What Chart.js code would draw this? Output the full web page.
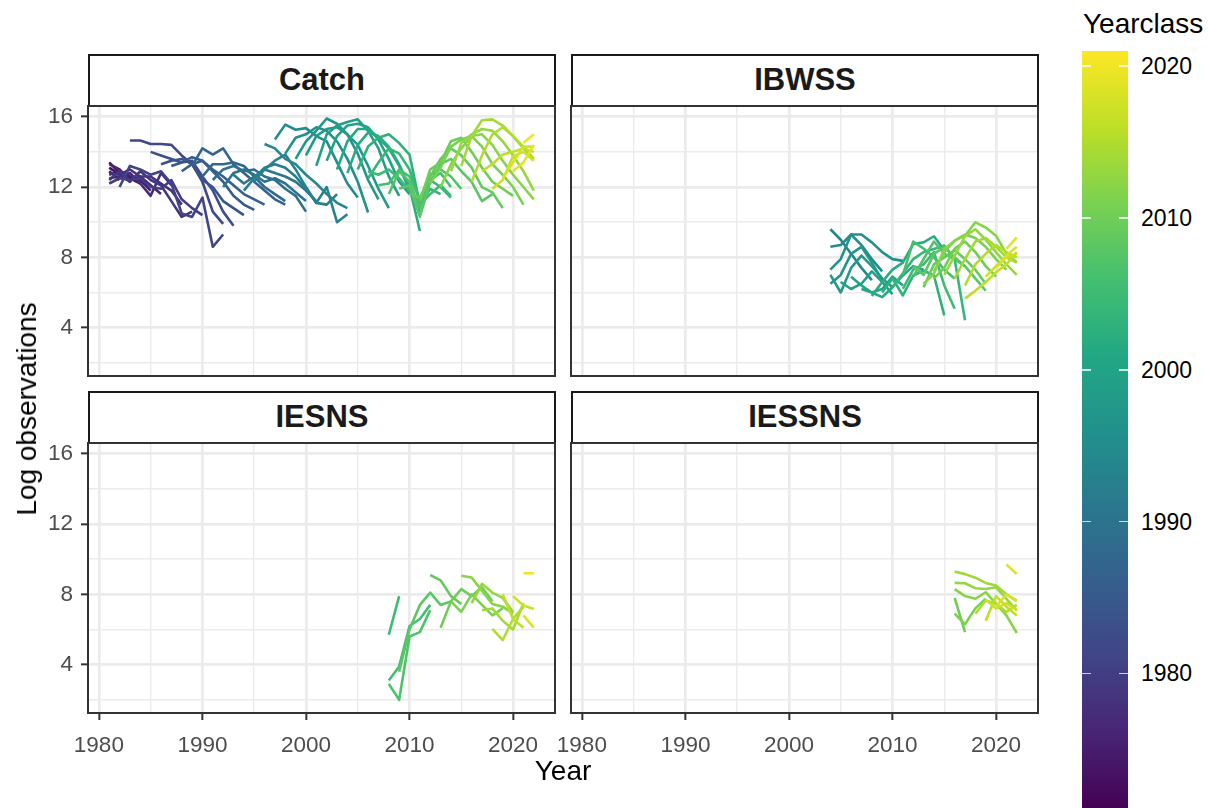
<!DOCTYPE html>
<html>
<head>
<meta charset="utf-8">
<title>Log observations by yearclass</title>
<script src="https://cdn.jsdelivr.net/npm/chart.js"></script>
<style>
  body { margin: 0; background: #fff; font-family: "Liberation Sans", Arial, sans-serif; }
  #page { position: relative; width: 1209px; height: 808px; overflow: hidden; background: #fff; }
  #page canvas { position: absolute; }
  .strip { position: absolute; box-sizing: border-box; height: 53px; border: 2px solid #1a1a1a; background: #fff;
           font-weight: bold; font-size: 31px; line-height: 48px; color: #1a1a1a; text-align: center; }
  .title { position: absolute; font-size: 28px; color: #000; white-space: nowrap; line-height: 1; }
  .cb-label { position: absolute; font-size: 23px; line-height: 23px; color: #000; transform: translateY(-50%); }
  .cb-tick { position: absolute; height: 1.5px; width: 9px; background: rgba(255,255,255,0.75); }
</style>
</head>
<body>
<div id="page">
  <div class="strip" style="left:88px; top:54px; width:468px;">Catch</div>
  <div class="strip" style="left:571px; top:54px; width:468px;">IBWSS</div>
  <div class="strip" style="left:88px; top:391px; width:468px;">IESNS</div>
  <div class="strip" style="left:571px; top:391px; width:468px;">IESSNS</div>

  <canvas id="catchChart" width="558" height="276" style="left:0px; top:103px;"></canvas>
  <canvas id="ibwssChart" width="473" height="276" style="left:568px; top:103px;"></canvas>
  <canvas id="iesnsChart" width="558" height="333" style="left:0px; top:440px;"></canvas>
  <canvas id="iessnsChart" width="501" height="333" style="left:540px; top:440px;"></canvas>

  <div class="title" style="left:27px; top:409px; transform: translate(-50%, -50%) rotate(-90deg);">Log observations</div>
  <div class="title" style="left:563px; top:771px; transform: translate(-50%, -50%);">Year</div>
  <div class="title" style="left:1083px; top:10px;">Yearclass</div>
  <div id="colorbar" style="position:absolute; left:1082px; top:51px; width:46px; height:759px;"></div>
</div>

<script>
// ---- data: one line per yearclass, values start at the given first year ----
const catchYearclass = [1971, 1972, 1973, 1974, 1975, 1976, 1977, 1978, 1979, 1980,
    1981, 1982, 1983, 1984, 1985, 1986, 1987, 1988, 1989, 1990,
    1991, 1992, 1993, 1994, 1995, 1996, 1997, 1998, 1999, 2000,
    2001, 2002, 2003, 2004, 2005, 2006, 2007, 2008, 2009, 2010,
    2011, 2012, 2013, 2014, 2015, 2016, 2017, 2018, 2019, 2020, 2021];
const catchFirstYear = [1981, 1981, 1981, 1981, 1981, 1981, 1981, 1981, 1981, 1981,
    1982, 1983, 1985, 1986, 1987, 1988, 1989, 1990, 1991, 1992,
    1993, 1994, 1995, 1996, 1997, 1998, 1999, 2000, 2001, 2002,
    2003, 2004, 2005, 2006, 2006, 2007, 2008, 2009, 2010, 2011,
    2012, 2013, 2014, 2015, 2016, 2017, 2018, 2019, 2020, 2021, 2022];
const catchLog = [
    [12.6],
    [12.9, 12.4],
    [13.1, 12.7, 12.3],
    [13.4, 12.8, 12.5, 12.2],
    [12.7, 12.9, 12.6, 12.4, 11.8],
    [13.3, 13.0, 12.4, 12.6, 12.1, 11.6],
    [12.5, 12.6, 12.8, 12.2, 11.5, 12.8, 12.1],
    [12.8, 12.7, 13.0, 12.6, 12.6, 12.2, 11.8, 11.0],
    [12.4, 12.9, 12.3, 12.9, 12.4, 12.1, 11.2, 10.3, 10.6],
    [12.2, 12.5, 12.4, 12.5, 12.0, 11.9, 12.4, 11.3, 10.8, 10.4],
    [12.0, 13.2, 13.0, 12.7, 12.9, 12.2, 10.5, 10.3, 11.4, 8.6, 9.3],
    [14.65, 14.65, 14.45, 14.45, 14.4, 13.8, 13.3, 12.3, 10.6, 9.9],
    [14.0, 13.8, 13.6, 13.4, 13.5, 12.6, 11.8, 10.6, 9.8],
    [13.3, 13.5, 13.6, 13.3, 12.4, 12.0, 11.2, 10.8, 10.4],
    [13.2, 13.4, 13.7, 13.5, 12.9, 12.3, 11.5, 11.0, 10.7],
    [12.9, 13.3, 13.5, 13.0, 12.6, 12.1, 11.6, 11.3, 11.0],
    [13.2, 14.2, 13.85, 14.2, 13.3, 12.8, 12.3, 11.8, 11.3, 11.0],
    [12.6, 13.3, 13.3, 13.4, 13.2, 12.6, 12.0, 11.6, 11.2],
    [12.4, 13.0, 13.2, 12.9, 13.0, 12.6, 12.4, 11.9, 11.5, 10.6],
    [12.0, 12.8, 13.0, 12.7, 12.3, 12.5, 12.2, 11.7, 11.2],
    [12.7, 12.2, 12.6, 13.0, 12.8, 12.6, 12.3, 11.8, 11.2],
    [11.8, 12.5, 13.1, 13.3, 13.1, 12.6, 11.9, 11.1, 11.0, 11.6],
    [12.3, 13.0, 13.5, 13.85, 13.0, 12.0, 11.1, 12.0, 10.0, 10.45],
    [14.45, 14.2, 13.6, 13.3, 12.7, 12.2, 11.6, 11.1, 10.8],
    [14.7, 15.55, 15.26, 15.35, 14.9, 14.6, 13.4, 12.2, 11.4],
    [13.9, 14.8, 15.0, 15.4, 15.2, 14.6, 13.6, 12.3, 10.55],
    [13.6, 14.6, 15.2, 15.9, 15.6, 15.0, 13.9, 12.4, 11.3],
    [13.8, 14.9, 15.3, 15.4, 15.0, 14.4, 13.2, 11.9, 10.8],
    [13.2, 15.0, 15.5, 15.7, 15.85, 15.2, 14.2, 12.6, 11.5],
    [13.5, 14.9, 15.5, 15.6, 15.4, 14.7, 13.6, 12.3, 11.6],
    [13.0, 14.6, 15.3, 15.3, 14.8, 14.2, 13.2, 11.8, 10.6],
    [12.8, 14.4, 15.1, 14.9, 14.3, 13.3, 12.0, 9.5],
    [13.0, 14.3, 14.8, 15.0, 14.5, 13.85, 11.0, 11.9, 11.6],
    [12.5, 13.4, 14.2, 13.9, 13.0, 11.2, 12.4, 12.0, 11.4],
    [12.9, 12.7, 13.0, 12.5, 11.8, 11.0, 11.6, 12.1, 11.5],
    [12.1, 12.2, 13.0, 12.6, 11.3, 12.4, 12.8, 12.0],
    [11.6, 12.9, 12.3, 10.8, 12.7, 13.0, 12.6, 11.9],
    [11.9, 12.1, 10.3, 12.3, 13.3, 13.6, 12.9, 12.3, 11.2, 11.6],
    [11.6, 11.4, 12.6, 13.6, 14.2, 13.8, 13.1, 12.0, 11.7, 10.8],
    [11.2, 13.0, 13.4, 14.6, 14.8, 14.0, 13.1, 12.3, 11.9, 11.5],
    [12.2, 13.1, 14.3, 14.7, 14.9, 14.3, 13.3, 12.7, 12.0, 11.0],
    [12.0, 13.3, 14.2, 14.9, 15.0, 14.4, 13.5, 12.7, 12.0, 11.3],
    [12.9, 14.5, 15.0, 15.3, 15.2, 14.6, 13.8, 12.9, 11.8],
    [13.2, 14.9, 15.8, 15.85, 15.5, 14.9, 14.2, 13.6],
    [12.3, 13.8, 15.0, 15.4, 14.9, 14.3, 13.6],
    [12.9, 13.3, 13.85, 14.0, 14.2, 14.0],
    [11.9, 12.4, 13.76, 14.0, 13.5],
    [12.5, 13.4, 14.3, 14.3],
    [12.9, 13.4, 14.4],
    [14.5, 15.0],
    [12.7]
];

const ibwssYearclass = [1994, 1995, 1996, 1997, 1998, 1999, 2000, 2001, 2002, 2003,
    2004, 2005, 2006, 2007, 2008, 2009, 2010, 2011, 2012, 2013,
    2014, 2015, 2016, 2017, 2018, 2019, 2020];
const ibwssFirstYear = [2004, 2004, 2004, 2004, 2004, 2005, 2006, 2007, 2008, 2009,
    2010, 2011, 2011, 2012, 2012, 2013, 2014, 2014, 2013, 2015,
    2016, 2017, 2017, 2019, 2020, 2021, 2022];
const ibwssLog = [
    [9.6, 9.0, 8.2, 7.4, 6.7],
    [8.6, 8.7, 9.3, 8.7, 7.9, 7.2],
    [7.3, 7.9, 9.3, 9.3, 8.85, 8.3, 7.9, 7.8],
    [6.5, 7.0, 8.2, 8.6, 7.7, 6.7],
    [7.0, 6.0, 7.4, 8.1, 7.5, 6.8, 6.3],
    [6.6, 6.2, 6.5, 7.2, 6.6, 5.9],
    [6.9, 6.4, 6.0, 6.2, 6.9, 6.4],
    [6.2, 6.0, 5.74, 6.3, 6.97, 7.5, 7.3],
    [5.8, 6.6, 7.3, 7.7, 8.76, 8.85, 9.2, 8.4],
    [6.0, 6.8, 5.83, 6.97, 7.25, 6.97, 4.7],
    [6.3, 7.1, 7.9, 8.3, 8.48, 8.67, 7.9, 4.42],
    [6.2, 7.3, 7.6, 8.3, 6.4, 5.08],
    [7.0, 8.9, 8.5, 8.0, 7.3, 6.8],
    [6.9, 7.9, 8.9, 8.2, 7.9, 7.5],
    [7.5, 7.0, 8.2, 8.6, 8.0, 7.5, 6.8, 6.1],
    [6.3, 7.6, 8.0, 8.4, 7.9, 7.3, 6.5],
    [6.8, 7.4, 8.5, 8.9, 8.3, 7.5, 6.9],
    [7.2, 8.3, 8.95, 9.3, 9.1, 8.6, 7.9, 7.3],
    [6.5, 7.06, 8.48, 8.95, 9.23, 9.99, 9.7, 9.23, 8.2, 7.72],
    [7.0, 8.1, 9.2, 9.6, 9.0, 8.3, 7.6, 7.0],
    [6.8, 7.9, 8.9, 9.1, 8.6, 8.0, 7.7],
    [6.4, 7.6, 8.2, 8.7, 8.3, 8.0],
    [5.65, 6.1, 6.6, 7.15, 7.6, 8.3],
    [6.9, 7.5, 8.0, 8.2],
    [7.4, 8.1, 8.6],
    [8.48, 9.14],
    [8.0]
];

const iesnsYearclass = [2005, 2006, 2007, 2008, 2009, 2010, 2011, 2012, 2013, 2014,
    2015, 2016, 2017, 2018, 2020];
const iesnsFirstYear = [2008, 2008, 2008, 2009, 2012, 2013, 2014, 2015, 2016, 2017,
    2018, 2019, 2020, 2021, 2021];
const iesnsLog = [
    [5.7, 7.9],
    [3.1, 3.9, 6.2, 6.6, 7.4],
    [2.9, 2.0, 5.6, 5.85, 7.1],
    [3.6, 6.0, 7.4, 8.1, 7.4, 7.6],
    [9.1, 8.8, 7.9, 7.45],
    [6.1, 7.6, 8.3, 7.9, 8.4, 7.6],
    [7.6, 7.0, 8.0, 7.4, 6.8, 7.2],
    [9.06, 8.96, 8.2, 7.45, 7.3, 6.9],
    [7.5, 8.6, 8.1, 7.8, 7.0],
    [7.1, 7.2, 6.5, 6.0, 7.5],
    [6.04, 5.4, 6.6, 7.3],
    [8.0, 6.6, 6.1],
    [7.9, 7.36, 7.17],
    [6.8, 6.1],
    [9.2, 9.2]
];

const iessnsYearclass = [2010, 2011, 2012, 2013, 2014, 2015, 2016, 2017, 2018, 2019];
const iessnsFirstYear = [2016, 2016, 2016, 2016, 2016, 2018, 2019, 2019, 2020, 2021];
const iessnsLog = [
    [7.8, 5.85],
    [6.9, 6.3, 7.2, 7.75],
    [8.3, 7.9, 7.75, 8.12, 7.46, 6.8, 5.8],
    [8.65, 8.63, 8.35, 8.3, 8.4, 7.74, 7.08],
    [9.3, 9.15, 8.95, 8.65, 8.5, 8.0, 7.65],
    [6.9, 7.65, 7.46, 7.0, 7.4],
    [6.5, 7.9, 7.3, 6.8],
    [7.7, 7.2, 7.5, 7.1],
    [7.3, 8.0, 7.6],
    [9.7, 9.16]
];

const xTicks = [1980, 1985, 1990, 1995, 2000, 2005, 2010, 2015, 2020];
const yTicks = [2, 4, 6, 8, 10, 12, 14, 16];
const legendBreaks = [1980, 1990, 2000, 2010, 2020];

// ---- colours ----
const viridisStops = ['#440154', '#482475', '#414487', '#355F8D', '#2A788E', '#21918C',
                      '#22A884', '#44BF70', '#7AD151', '#BDDF26', '#FDE725'];
const allYearclasses = [].concat(catchYearclass, ibwssYearclass, iesnsYearclass, iessnsYearclass);
const ycMin = Math.min(...allYearclasses);
const ycMax = Math.max(...allYearclasses);

function hexToRgb(h) {
    return [parseInt(h.slice(1, 3), 16), parseInt(h.slice(3, 5), 16), parseInt(h.slice(5, 7), 16)];
}

function viridis(t) {
    t = Math.min(1, Math.max(0, t));
    const pos = t * (viridisStops.length - 1);
    const i = Math.min(Math.floor(pos), viridisStops.length - 2);
    const f = pos - i;
    const a = hexToRgb(viridisStops[i]), b = hexToRgb(viridisStops[i + 1]);
    const c = a.map((v, k) => Math.round(v + (b[k] - v) * f));
    return 'rgb(' + c.join(',') + ')';
}

function yearclassColor(yc) {
    return viridis((yc - ycMin) / (ycMax - ycMin));
}

// ---- colour bar legend ----
const bar = document.getElementById('colorbar');
bar.style.background = 'linear-gradient(to top, ' + viridisStops.join(', ') + ')';
const barTop = 51, barHeight = 759;
legendBreaks.forEach(function(v) {
    const y = barTop + (ycMax - v) / (ycMax - ycMin) * barHeight;
    const page = document.getElementById('page');
    ['1082px', '1119px'].forEach(function(left) {
        const t = document.createElement('div');
        t.className = 'cb-tick';
        t.style.left = left;
        t.style.top = (y - 0.75) + 'px';
        page.appendChild(t);
    });
    const lab = document.createElement('div');
    lab.className = 'cb-label';
    lab.style.left = '1141px';
    lab.style.top = y + 'px';
    lab.textContent = v;
    page.appendChild(lab);
});

// ---- charts ----
Chart.defaults.font.family = '"Liberation Sans", Arial, sans-serif';

function cohortDatasets(yearclass, firstYear, logObs) {
    return yearclass.map(function(yc, i) {
        return {
            label: String(yc),
            data: logObs[i].map(function(v, k) { return { x: firstYear[i] + k, y: v }; }),
            showLine: true,
            borderColor: yearclassColor(yc),
            backgroundColor: yearclassColor(yc),
            borderWidth: 2.6,
            borderCapStyle: 'butt',
            borderJoinStyle: 'round',
            pointRadius: 0,
            pointHoverRadius: 0,
            tension: 0
        };
    }).reverse(); // later yearclasses drawn on top
}

const panelBorder = {
    id: 'panelBorder',
    afterDraw(chart) {
        const a = chart.chartArea, ctx = chart.ctx;
        ctx.save();
        ctx.strokeStyle = '#333333';
        ctx.lineWidth = 2;
        ctx.strokeRect(a.left, a.top, a.right - a.left, a.bottom - a.top);
        ctx.restore();
    }
};

function makePanel(id, datasets, showX, showY, padLeft) {
    new Chart(document.getElementById(id), {
        type: 'scatter',
        data: { datasets: datasets },
        options: {
            responsive: false,
            animation: false,
            devicePixelRatio: 1,
            events: [],
            layout: { padding: { top: 3, right: 3, bottom: showX ? 0 : 3, left: padLeft } },
            plugins: { legend: { display: false }, tooltip: { enabled: false } },
            scales: {
                x: {
                    type: 'linear',
                    min: 1978.95,
                    max: 2024.05,
                    afterBuildTicks: function(scale) {
                        scale.ticks = xTicks.map(function(v) { return { value: v }; });
                    },
                    afterFit: function(scale) {
                        scale.height = showX ? 60 : 0;
                        scale.paddingLeft = 0;
                        scale.paddingRight = 0;
                    },
                    grid: {
                        color: '#EBEBEB',
                        lineWidth: function(ctx) { return ctx.tick && ctx.tick.value % 10 === 0 ? 2.7 : 1.4; },
                        drawTicks: showX,
                        tickLength: 7,
                        tickColor: function(ctx) { return ctx.tick && ctx.tick.value % 10 === 0 ? '#333333' : 'rgba(0,0,0,0)'; },
                        tickWidth: 2
                    },
                    border: { display: false },
                    ticks: {
                        display: showX,
                        autoSkip: false,
                        maxRotation: 0,
                        padding: 12,
                        color: '#4D4D4D',
                        font: { size: 22.5 },
                        callback: function(v) { return v % 10 === 0 ? String(v) : ''; }
                    }
                },
                y: {
                    type: 'linear',
                    min: 1.25,
                    max: 16.61,
                    afterBuildTicks: function(scale) {
                        scale.ticks = yTicks.map(function(v) { return { value: v }; });
                    },
                    afterFit: function(scale) {
                        scale.width = showY ? 88 : 0;
                        scale.paddingTop = 0;
                        scale.paddingBottom = 0;
                    },
                    grid: {
                        color: '#EBEBEB',
                        lineWidth: function(ctx) { return ctx.tick && ctx.tick.value % 4 === 0 ? 2.7 : 1.4; },
                        drawTicks: showY,
                        tickLength: 7,
                        tickColor: function(ctx) { return ctx.tick && ctx.tick.value % 4 === 0 ? '#333333' : 'rgba(0,0,0,0)'; },
                        tickWidth: 2
                    },
                    border: { display: false },
                    ticks: {
                        display: showY,
                        autoSkip: false,
                        padding: 8,
                        color: '#4D4D4D',
                        font: { size: 22.5 },
                        callback: function(v) { return v % 4 === 0 ? String(v) : ''; }
                    }
                }
            }
        },
        plugins: [panelBorder]
    });
}

makePanel('catchChart', cohortDatasets(catchYearclass, catchFirstYear, catchLog), false, true, 0);
makePanel('ibwssChart', cohortDatasets(ibwssYearclass, ibwssFirstYear, ibwssLog), false, false, 3);
makePanel('iesnsChart', cohortDatasets(iesnsYearclass, iesnsFirstYear, iesnsLog), true, true, 0);
makePanel('iessnsChart', cohortDatasets(iessnsYearclass, iessnsFirstYear, iessnsLog), true, false, 31);
</script>
</body>
</html>
